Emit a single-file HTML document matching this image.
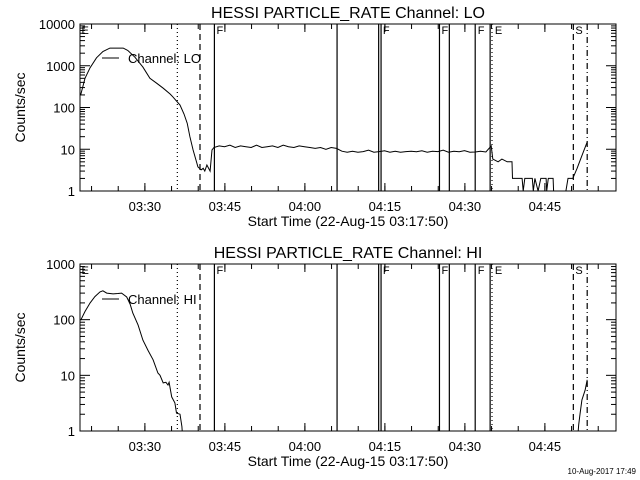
<!DOCTYPE html>
<html><head><meta charset="utf-8"><style>
body{margin:0;background:#fff;}
svg{display:block;font-family:"Liberation Sans",sans-serif;}
</style></head><body>
<svg id="c" width="640" height="480" viewBox="0 0 640 480"></svg>
<script>
// ---- data (minutes since 03:17:50) ----
const loTimes=[0.13,0.94,1.9,3.1,4.3,5.6,8.1,9.0,10.3,11.8,13.1,14.4,15.6,16.9,17.4,18.75,19.5,20.1,20.6,21.2,21.75,22.1,22.7,23.1,23.4,23.8,24.4,24.75,25.1];
const loValues=[200,500,900,1550,2200,2650,2650,2300,1600,930,500,380,290,210,180,115,70,42,20,9.6,5.5,3.8,3.2,3.5,3.0,4.2,3.0,9.6,11];
const loFlatValues=[11,12,11.5,12.5,11,12,11.5,11,12.5,11,11.5,12,11,12.5,11.5,11,12,11.5,11,10.5,11,10,11,10.5,9,8.5,9,8.5,8.8,9.5,8.5,8.8,9.2,8.5,9,8.5,8.8,9,8.7,9.2,8.5,9,8.8,9.5,8.5,9,8.7,9.3,8.5,8.6,9,8.6];
const loTailTimes=[77.1,77.4,78.4,79.1,80.1,81,81.1,82.9,83.1,83.4,84.8,85,85.3,85.9,86.4,87.4,87.5,87.8,88.7,88.8,91.1,91.5,92.4,93.2,94.1,95.1];
const loTailValues=[12,5.8,5,5.8,5,5,2,2,1,2,2,1,2,1,2,2,1,2,2,1,1,2,2,3.5,7,15];
const hiTimes=[0.13,0.94,1.9,2.8,3.75,4.3,5,6.2,7.1,7.8,8.75,9.4,9.9,10.9,11.8,12.75,13.7,14.6,15,15.6,16.1,16.5,16.7,17.2,17.8,18.1,18.75,19.1,19.2];
const hiValues=[98,140,200,260,315,330,300,290,295,300,255,190,132,80,43,28,19,11,10,7.3,7.5,6.7,7.5,4.1,3.2,2.1,2,1.2,0.9];
const hiTailTimes=[93.4,93.5,93.75,94.1,94.7,95.1];
const hiTailValues=[0.95,1.3,2,3.6,5.4,8.3];
const markerTimes=[18.25,22.5,25.2,48.2,56.0,56.45,67.4,69.25,74.1,76.9,77.25,92.5,95.1];
const markerStyles=["dot","dash","solid","solid","solid","solid","solid","solid","solid","solid","dot","dash","dashdot"];
const flagTimes=[0.1,25.4,56.6,67.6,74.4,77.6,92.7];
const flagLabels=["E","F","F","F","F","E","S"];
const xTickLabels=["03:30","03:45","04:00","04:15","04:30","04:45"];
const xTickMinutes=[12.1667,27.1667,42.1667,57.1667,72.1667,87.1667];
const xMinorStart=2.1667;
const topYTicks=["1","10","100","1000","10000"];
const botYTicks=["1","10","100","1000"];

const svg=document.getElementById('c');
const NS='http://www.w3.org/2000/svg';
function mk(tag,attrs,parent){const e=document.createElementNS(NS,tag);for(const k in attrs)e.setAttribute(k,attrs[k]);(parent||svg).appendChild(e);return e;}
const X0=80,X1=616,PXMIN=5.3333;
function xs(m){return X0+m*PXMIN;}
const dash={dot:"1,3",dash:"6,4",solid:"",dashdot:"6,3,1,3"};

function panel(top,bot,decades,yLabels,title,legendText,series,idx){
  const g=mk('g',{});
  
  
  const ys=v=>bot-Math.log10(v)/decades*(bot-top);
  const cp='clip'+idx;
  const cl=mk('clipPath',{id:cp},g);mk('rect',{x:X0,y:top,width:X1-X0,height:bot-top},cl);
  const t=mk('text',{x:348,y:top-6,'text-anchor':'middle','font-size':16},g);t.textContent=title;
  
  const frame=mk('rect',{x:X0,y:top,width:X1-X0,height:bot-top,fill:'none',stroke:'#000','stroke-width':1},g);
  
  // y ticks
  for(let d=0;d<=decades;d++){
    const y=ys(Math.pow(10,d));
    mk('line',{x1:X0,x2:X0+10,y1:y,y2:y,stroke:'#000'},g);
    mk('line',{x1:X1-10,x2:X1,y1:y,y2:y,stroke:'#000'},g);
    const l=mk('text',{x:75,y:y+5,'text-anchor':'end','font-size':13},g);l.textContent=yLabels[d];
    
    if(d<decades)for(let k=2;k<10;k++){const yy=ys(k*Math.pow(10,d));
      mk('line',{x1:X0,x2:X0+5,y1:yy,y2:yy,stroke:'#000'},g);
      mk('line',{x1:X1-5,x2:X1,y1:yy,y2:yy,stroke:'#000'},g);}
  }
  // x ticks
  for(let m=xMinorStart;xs(m)<X1;m+=5){const x=xs(m);
    mk('line',{x1:x,x2:x,y1:bot,y2:bot-5,stroke:'#000'},g);
    mk('line',{x1:x,x2:x,y1:top,y2:top+5,stroke:'#000'},g);}
  xTickMinutes.forEach((m,i)=>{const x=xs(m);
    mk('line',{x1:x,x2:x,y1:bot,y2:bot-8,stroke:'#000'},g);
    mk('line',{x1:x,x2:x,y1:top,y2:top+8,stroke:'#000'},g);
    const l=mk('text',{x:x,y:bot+20,'text-anchor':'middle','font-size':13},g);l.textContent=xTickLabels[i];
    });
  const xt=mk('text',{x:348,y:bot+35,'text-anchor':'middle','font-size':14},g);xt.textContent='Start Time (22-Aug-15 03:17:50)';
  
  const cy=(top+bot)/2;
  const yt=mk('text',{x:25,y:cy,'text-anchor':'middle','font-size':14,transform:'rotate(-90 25 '+cy+')'},g);yt.textContent='Counts/sec';
  
  // markers
  markerTimes.forEach((m,i)=>{const x=xs(m);
    const ln=mk('line',{x1:x,x2:x,y1:top,y2:bot,stroke:'#000','stroke-width':1.2,'stroke-dasharray':dash[markerStyles[i]]},g);
    });
  flagTimes.forEach((m,i)=>{const f=mk('text',{x:xs(m)+1,y:top+10,'font-size':11},g);f.textContent=flagLabels[i];
    });
  // series
  const sg=mk('g',{'clip-path':'url(#'+cp+')'},g);
  series.forEach(([ts,vs])=>{
    const d=ts.map((tm,i)=>(i?'L':'M')+xs(tm).toFixed(1)+','+ys(vs[i]).toFixed(1)).join('');
    const p=mk('path',{d:d,fill:'none',stroke:'#000','stroke-width':1},sg);
    });
  // legend
  const ly=idx===0?58:299;
  mk('line',{x1:102,x2:119,y1:ly,y2:ly,stroke:'#000'},g);
  const lt=mk('text',{x:128,y:ly+5,'font-size':13},g);lt.textContent=legendText;
  
}
const flatTimes=loFlatValues.map((v,i)=>25.1+i);
const loAllT=loTimes.concat(flatTimes.slice(1),loTailTimes);
const loAllV=loValues.concat(loFlatValues.slice(1),loTailValues);
panel(24,191,4,topYTicks,'HESSI PARTICLE_RATE Channel: LO','Channel: LO',[[loAllT,loAllV]],0);
panel(264,431,3,botYTicks,'HESSI PARTICLE_RATE Channel: HI','Channel: HI',[[hiTimes,hiValues],[hiTailTimes,hiTailValues]],1);
const ft=mk('text',{x:636,y:474,'text-anchor':'end','font-size':8});ft.textContent='10-Aug-2017 17:49';


</script>
</body></html>
